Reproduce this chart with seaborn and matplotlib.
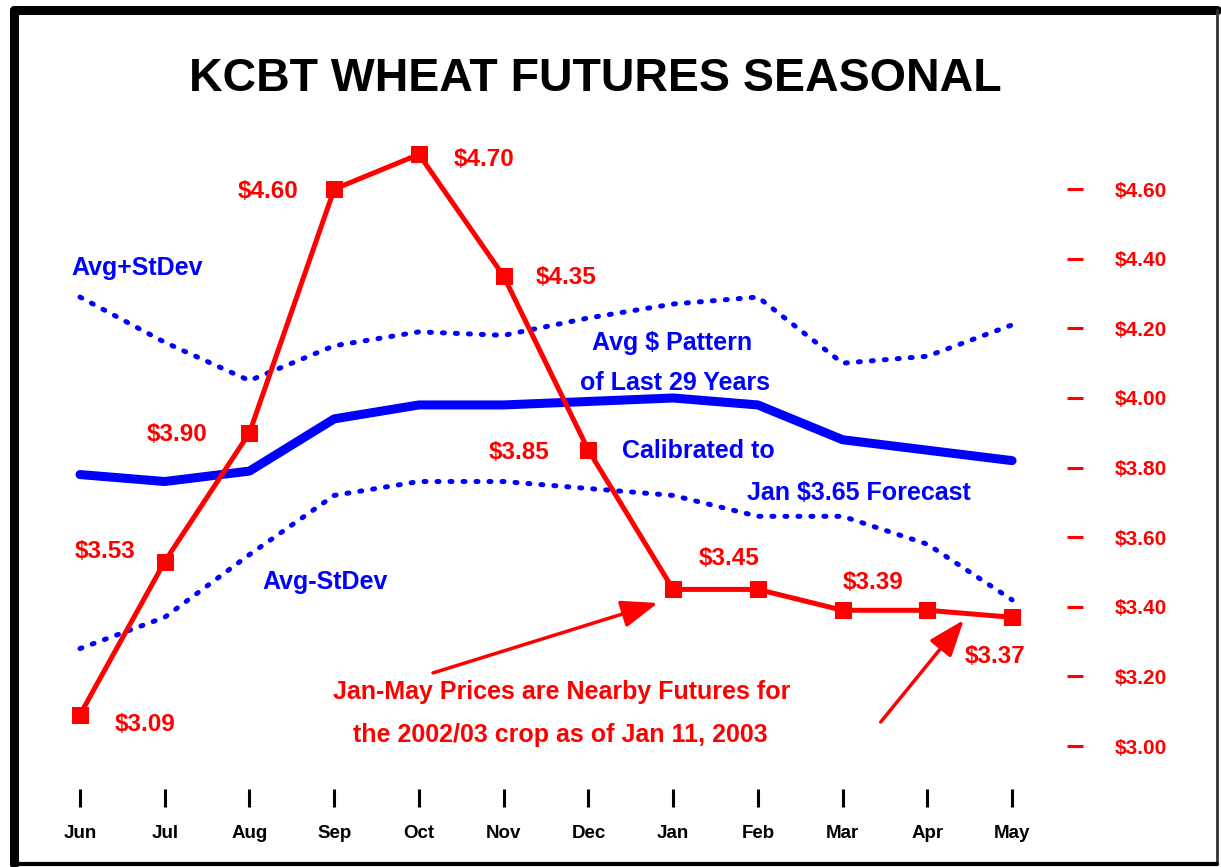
import seaborn as sns
import matplotlib.pyplot as plt
from matplotlib.lines import Line2D
import pandas as pd

# data
months = ["Jun", "Jul", "Aug", "Sep", "Oct", "Nov", "Dec", "Jan", "Feb", "Mar", "Apr", "May"]
price = [3.09, 3.53, 3.90, 4.60, 4.70, 4.35, 3.85, 3.45, 3.45, 3.39, 3.39, 3.37]
avg = [3.78, 3.76, 3.79, 3.94, 3.98, 3.98, 3.99, 4.00, 3.98, 3.88, 3.85, 3.82]
avg_plus = [4.29, 4.16, 4.05, 4.15, 4.19, 4.18, 4.23, 4.27, 4.29, 4.10, 4.12, 4.21]
avg_minus = [3.28, 3.37, 3.55, 3.72, 3.76, 3.76, 3.74, 3.72, 3.66, 3.66, 3.58, 3.42]
price_labels = ["$3.09", "$3.53", "$3.90", "$4.60", "$4.70", "$4.35", "$3.85", "$3.45", "", "$3.39", "", "$3.37"]
y_ticks = [3.00, 3.20, 3.40, 3.60, 3.80, 4.00, 4.20, 4.40, 4.60]

df = pd.DataFrame({"m": range(len(months)), "price": price, "avg": avg,
                   "plus": avg_plus, "minus": avg_minus})

sns.set_theme(style="white")
plt.rcParams["font.family"] = ["Liberation Sans", "DejaVu Sans"]
plt.rcParams["font.weight"] = "bold"

W, H = 1221, 867
fig = plt.figure(figsize=(W / 100, H / 100), dpi=100)


def px(x, y):
    return x / W, 1 - y / H


ax = fig.add_axes([30 / W, 1 - 807 / H, 1053 / W, 677 / H])
ax.set_facecolor("none")

blue = "#0000FF"
red = "#FF0000"

sns.lineplot(data=df, x="m", y="plus", ax=ax, color=blue, lw=3.6,
             linestyle=(0, (0.4, 2.2)), dash_capstyle="round")
sns.lineplot(data=df, x="m", y="minus", ax=ax, color=blue, lw=3.6,
             linestyle=(0, (0.4, 2.2)), dash_capstyle="round")
sns.lineplot(data=df, x="m", y="avg", ax=ax, color=blue, lw=6.5,
             solid_capstyle="round")
sns.lineplot(data=df, x="m", y="price", ax=ax, color=red, lw=3.6,
             marker="s", markersize=11.5, markeredgecolor=red, markerfacecolor=red)

# price labels (offsets in points)
offsets = [(47, -7), (-43, 7), (-52, -1), (-48, -2), (47, -4), (45, -1),
           (-50, -2), (40, 22), (0, 0), (22, 20), (0, 0), (-12, -28)]
for i, (lab, off) in enumerate(zip(price_labels, offsets)):
    if lab:
        ax.annotate(lab, (i, price[i]), xytext=off, textcoords="offset points",
                    ha="center", va="center", color=red, fontsize=17.5, fontweight="bold")

ax.set_xlim(-0.590, 11.837)
ax.set_ylim(2.8248, 4.770)
for s in ax.spines.values():
    s.set_visible(False)

ax.set_xticks(range(len(months)))
ax.set_xticklabels(months)
ax.tick_params(axis="x", bottom=True, direction="in", length=13, width=2.2,
               color="black", pad=13, labelsize=13.5, labelcolor="black")
ax.yaxis.tick_right()
ax.set_yticks(y_ticks)
ax.set_yticklabels([f"${v:.2f}" for v in y_ticks])
ax.tick_params(axis="y", right=True, left=False, direction="in", length=11.5, width=2.2,
               color=red, pad=23, labelsize=15, labelcolor=red)
for t in ax.get_xticklabels() + ax.get_yticklabels():
    t.set_fontweight("bold")
ax.set_xlabel("")
ax.set_ylabel("")

# arrows
arrow = dict(arrowstyle="-|>,head_length=0.8,head_width=0.3", color=red, lw=2.5,
             mutation_scale=28, shrinkA=0, shrinkB=0)
ax.annotate("", xy=(6.82, 3.411), xytext=(4.166, 3.21), arrowprops=arrow)
ax.annotate("", xy=(10.43, 3.362), xytext=(9.45, 3.069), arrowprops=arrow)

# texts
fig.text(*px(595, 79), "KCBT WHEAT FUTURES SEASONAL", ha="center", va="center",
         fontsize=33.5, fontweight="bold", color="black")
blue_notes = [("Avg+StDev", 137, 268), ("Avg $ Pattern", 672, 343),
              ("of Last 29 Years", 675, 383), ("Calibrated to", 698, 451),
              ("Jan $3.65 Forecast", 859, 493), ("Avg-StDev", 325, 582)]
for txt, x, y in blue_notes:
    fig.text(*px(x, y), txt, ha="center", va="center", fontsize=18,
             fontweight="bold", color=blue)
fig.text(*px(562, 692), "Jan-May Prices are Nearby Futures for", ha="center",
         va="center", fontsize=18, fontweight="bold", color=red)
fig.text(*px(560, 735), "the 2002/03 crop as of Jan 11, 2003", ha="center",
         va="center", fontsize=18, fontweight="bold", color=red)

# frame
fig.add_artist(Line2D([14 / W, 14 / W], [1 - 10 / H, 1 - 864 / H], color="black", lw=6.5,
                      transform=fig.transFigure, solid_capstyle="round"))
fig.add_artist(Line2D([14 / W, 1217 / W], [1 - 10 / H, 1 - 10 / H], color="black", lw=6.5,
                      transform=fig.transFigure, solid_capstyle="round"))
fig.add_artist(Line2D([1217 / W, 1217 / W], [1 - 10 / H, 1 - 864 / H], color="#333333", lw=2,
                      transform=fig.transFigure))
fig.add_artist(Line2D([14 / W, 1217 / W], [1 - 864 / H, 1 - 864 / H], color="black", lw=3,
                      transform=fig.transFigure))

fig.savefig("out.png", dpi=100)
